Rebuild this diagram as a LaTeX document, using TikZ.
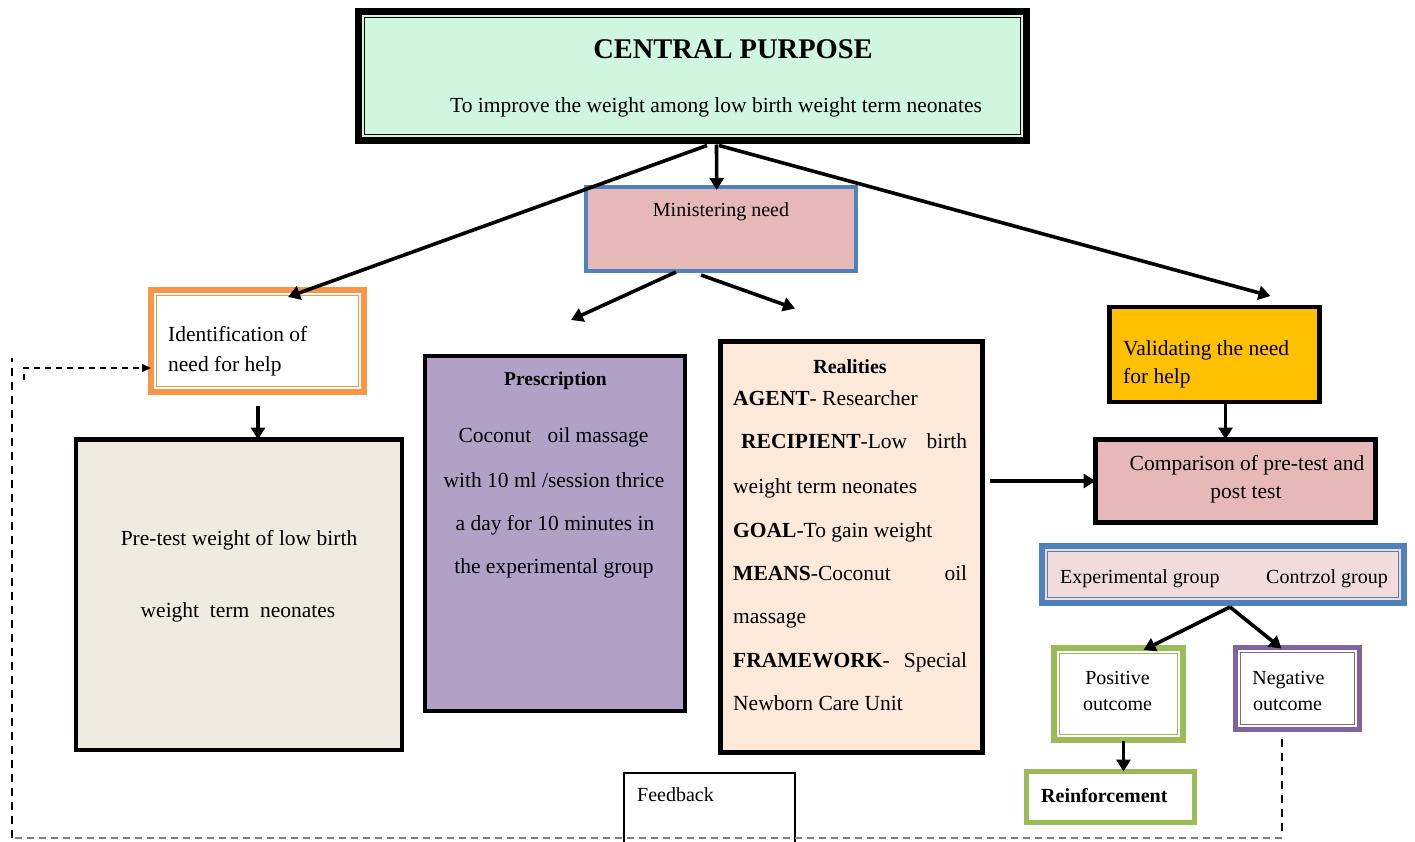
\documentclass[tikz,border=0pt]{standalone}
\usepackage{fontspec}
\setmainfont{Liberation Serif}
\usetikzlibrary{arrows.meta}
\definecolor{mint}{RGB}{208,246,224}
\definecolor{pinkbox}{RGB}{230,184,183}
\definecolor{bluebd}{RGB}{79,129,189}
\definecolor{orangebd}{RGB}{247,150,70}
\definecolor{greybox}{RGB}{238,236,225}
\definecolor{lilac}{RGB}{178,161,199}
\definecolor{peach}{RGB}{253,233,217}
\definecolor{amber}{RGB}{255,192,0}
\definecolor{lightpink}{RGB}{242,220,219}
\definecolor{greenbd}{RGB}{155,187,89}
\definecolor{purplebd}{RGB}{128,100,162}
\definecolor{dashgrey}{RGB}{128,128,128}
\newcommand\innerrect[3]{\draw[#3] ([shift={(#2,#2)}]#1.north west) rectangle ([shift={(-#2,-#2)}]#1.south east);}
\begin{document}
\begin{tikzpicture}[x=1pt,y=-1pt,
  box/.style={draw, rectangle, inner sep=0pt, outer sep=0pt},
  arr/.style={line width=3.6pt, -{Triangle[length=12pt,width=14pt]}},
  tx/.style={inner sep=0pt, font=\fontsize{21.5}{26}\selectfont},
  ts/.style={inner sep=0pt, font=\fontsize{20}{24}\selectfont},
  thindash/.style={line width=1.3pt, dash pattern=on 8pt off 6pt},
  greydash/.style={draw=dashgrey, line width=2.5pt, dash pattern=on 7pt off 5pt}]
\useasboundingbox (0,0) rectangle (1415,842);

% ---------- boxes ----------
\node[box, fill=mint, line width=7pt, minimum width=668pt, minimum height=129pt] (cp) at (692.5,76) {};
\innerrect{cp}{6}{line width=1.2pt}
\node[box, fill=pinkbox, draw=bluebd, line width=4pt, minimum width=270pt, minimum height=84pt] (mn) at (721,229) {};
\node[box, fill=white, draw=orangebd, line width=6pt, minimum width=213pt, minimum height=102pt] (id) at (257.5,341) {};
\innerrect{id}{5.5}{draw=orangebd, line width=1pt}
\node[box, fill=greybox, line width=4.5pt, minimum width=326pt, minimum height=310.5pt] (pt) at (239,594.75) {};
\node[box, fill=lilac, line width=4.5pt, minimum width=260pt, minimum height=355pt] (pr) at (555,533.5) {};
\node[box, fill=peach, line width=4.5pt, minimum width=262pt, minimum height=411pt] (re) at (851.5,547) {};
\node[box, fill=amber, line width=4.5pt, minimum width=210pt, minimum height=95pt] (va) at (1214.5,354.5) {};
\node[box, fill=pinkbox, line width=4.5pt, minimum width=280pt, minimum height=83pt] (co) at (1235.5,481) {};
\node[box, fill=lightpink, draw=bluebd, line width=6pt, minimum width=362pt, minimum height=57pt] (eg) at (1223,574.5) {};
\innerrect{eg}{5.5}{draw=bluebd, line width=1pt}
\node[box, fill=white, draw=greenbd, line width=6pt, minimum width=129pt, minimum height=92pt] (po) at (1118.5,694) {};
\innerrect{po}{5.5}{draw=greenbd, line width=1pt}
\node[box, fill=white, draw=purplebd, line width=5pt, minimum width=124pt, minimum height=82pt] (ne) at (1297.5,688.5) {};
\innerrect{ne}{5}{draw=purplebd, line width=1pt}
\node[box, fill=white, draw=greenbd, line width=5pt, minimum width=168pt, minimum height=51pt] (rf) at (1110.5,797) {};
\node[box, fill=white, line width=1.5pt, minimum width=171pt, minimum height=72pt] (fb) at (709.5,809) {};

% ---------- texts ----------
\node[inner sep=0pt, font=\fontsize{28.5}{32}\selectfont\bfseries, anchor=base] (tcp1) at (733,59) {CENTRAL PURPOSE};
\node[tx, anchor=base] (tcp2) at (716,113) {To improve the weight among low birth weight term neonates};
\node[ts, anchor=base] (tmn) at (721,217) {Ministering need};
\node[tx, anchor=base west] (tid1) at (168,341) {Identification of};
\node[tx, anchor=base west] (tid2) at (168,371) {need for help};
\node[tx, anchor=base] (tpt1) at (239,545) {Pre-test weight of low birth};
\node[tx, anchor=base] (tpt2) at (238,617) {weight\ \ term\ \ neonates};
\node[inner sep=0pt, font=\fontsize{19.5}{24}\selectfont\bfseries, anchor=base] (tpr0) at (555.5,385) {Prescription};
\node[tx, anchor=base] (tpr1) at (553.5,442) {Coconut\ \ \ oil massage};
\node[tx, anchor=base] (tpr2) at (554,487) {with 10 ml /session thrice};
\node[tx, anchor=base] (tpr3) at (555,530) {a day for 10 minutes in};
\node[tx, anchor=base] (tpr4) at (554,573) {the experimental group};
\node[inner sep=0pt, font=\fontsize{20}{24}\selectfont\bfseries, anchor=base] (tre0) at (850,373) {Realities};
\node[tx, anchor=base west] (tre1) at (733,405) {\textbf{AGENT}- Researcher};
\node[tx, anchor=base west] (tre2) at (741,448) {\makebox[226pt][s]{\textbf{RECIPIENT}-Low\hfill birth}};
\node[tx, anchor=base west] (tre3) at (733,493) {weight term neonates};
\node[tx, anchor=base west] (tre4) at (733,537) {\textbf{GOAL}-To gain weight};
\node[tx, anchor=base west] (tre5) at (733,580) {\makebox[234pt][s]{\textbf{MEANS}-Coconut\hfill oil}};
\node[tx, anchor=base west] (tre6) at (733,623) {massage};
\node[tx, anchor=base west] (tre7) at (733,667) {\makebox[234pt][s]{\textbf{FRAMEWORK}-\hfill Special}};
\node[tx, anchor=base west] (tre8) at (733,710) {Newborn Care Unit};
\node[tx, anchor=base west] (tva1) at (1123,355) {Validating the need};
\node[tx, anchor=base west] (tva2) at (1123,383) {for help};
\node[tx, anchor=base] (tco1) at (1247,470) {Comparison of pre-test and};
\node[tx, anchor=base] (tco2) at (1246,498) {post test};
\node[ts, anchor=base west] (teg1) at (1060,583) {Experimental group};
\node[ts, anchor=base west] (teg2) at (1266,583) {Contrzol group};
\node[ts, anchor=base] (tpo1) at (1117.5,684) {Positive};
\node[ts, anchor=base] (tpo2) at (1117.5,710) {outcome};
\node[ts, anchor=base] (tne1) at (1288.5,684) {Negative};
\node[ts, anchor=base] (tne2) at (1287.5,710) {outcome};
\node[inner sep=0pt, font=\fontsize{20}{24}\selectfont\bfseries, anchor=base west] (trf) at (1041,802) {Reinforcement};
\node[ts, anchor=base west] (tfb) at (637,801) {Feedback};

% ---------- arrows ----------
\draw[arr] ([shift={(14.5,5)}]cp.south) -- ([shift={(30.5,7)}]id.north);
\draw[arr] ([shift={(24,4)}]cp.south) -- ([shift={(-4.3,3)}]mn.north);
\draw[arr] ([shift={(26.5,5)}]cp.south) -- ([shift={(56,-11)}]va.north);
\draw[arr] ([shift={(-45,1)}]mn.south) -- ([shift={(16,-36)}]pr.north);
\draw[arr] ([shift={(-20,4)}]mn.south) -- ([shift={(-56.5,-33)}]re.north);
\coordinate (s6) at ([shift={(0.5,14)}]id.south);
\draw[arr] (s6) -- (s6 |- pt.north);
\coordinate (s7) at ([xshift=11]va.south);
\draw[arr] (s7) -- (s7 |- co.north);
\coordinate (s8) at ([xshift=7.5]re.east |- co.west);
\draw[arr] (s8) -- (co.west);
\coordinate (s9) at ([shift={(7,4)}]eg.south);
\draw[arr] (s9) -- ([shift={(25,2)}]po.north);
\draw[arr] (s9) -- ([shift={(-16,1)}]ne.north);
\coordinate (s11) at ([shift={(5,1)}]po.south);
\draw[arr] (s11) -- (s11 |- rf.north);

% ---------- feedback loop ----------
\coordinate (d1) at ([shift={(-15.5,9)}]ne.south);
\coordinate (d2) at (d1 |- 0,836);
\coordinate (d3) at (12,838);
\coordinate (d4) at (12,358);
\coordinate (d5) at (24,380);
\coordinate (d6) at (24,368);
\draw[thindash] (d1) -- (d2);
\draw[greydash] (d2 |- d3) -- (d3);
\draw[thindash] (d3) -- (d4);
\draw[line width=1.5pt, dash pattern=on 6pt off 5pt, -{Triangle[length=9pt,width=8pt]}] (d5) -- (d6) -- (d6 -| id.west);
\end{tikzpicture}
\end{document}
